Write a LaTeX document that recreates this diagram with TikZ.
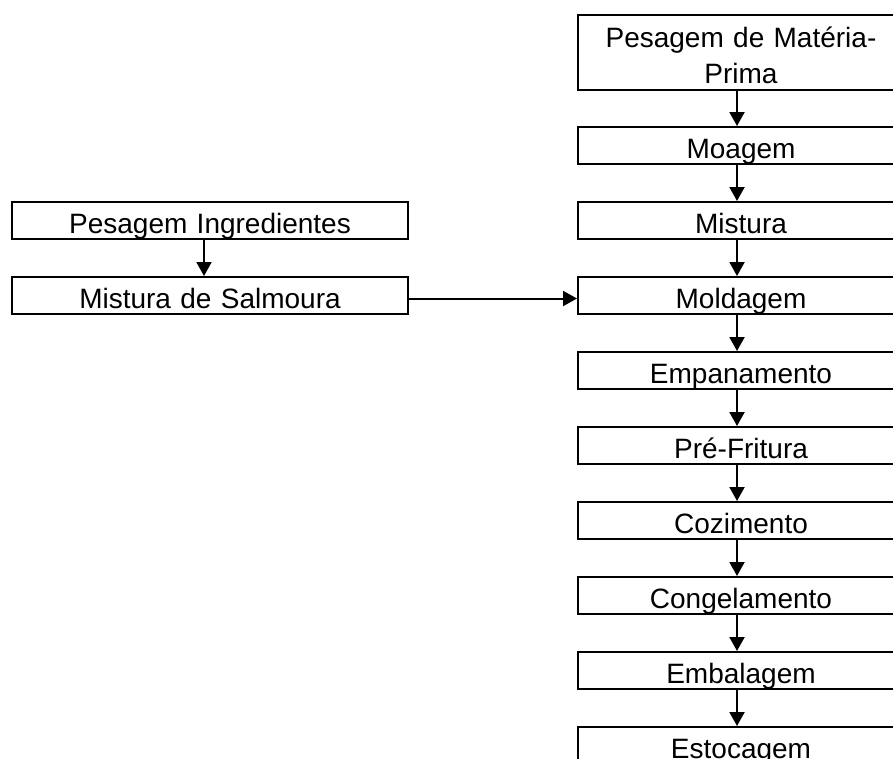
\documentclass[tikz,border=0pt]{standalone}
\usepackage{fontspec}
\setmainfont{Liberation Sans}
\usetikzlibrary{arrows.meta}
\tikzset{
  flowbox/.style={draw=black, line width=2pt, inner sep=0pt, anchor=north west,
    text height=31pt, text depth=6pt, align=center,
    font=\fontsize{28}{36}\selectfont},
  rbox/.style={flowbox, text width=326pt},
  lbox/.style={flowbox, text width=396pt},
  flowarrow/.style={line width=2pt, -{Triangle[length=14pt,width=15pt]}}
}
\begin{document}
\begin{tikzpicture}[x=1pt,y=-1pt]
\useasboundingbox (0,0) rectangle (893,758);
\clip (0,0) rectangle (893,758);
\node[rbox, text height=32pt, text depth=43pt] (p1) at (577,14) {Pesagem de Matéria-\\Prima};
\node[rbox] (p2) at (577,126) {Moagem};
\node[rbox] (p3) at (577,201) {Mistura};
\node[rbox] (p4) at (577,276) {Moldagem};
\node[rbox] (p5) at (577,351) {Empanamento};
\node[rbox] (p6) at (577,426) {Pré-Fritura};
\node[rbox] (p7) at (577,501) {Cozimento};
\node[rbox] (p8) at (577,576) {Congelamento};
\node[rbox] (p9) at (577,651) {Embalagem};
\node[rbox] (p10) at (577,726) {Estocagem};
\node[lbox] (l1) at (11,201) {Pesagem Ingredientes};
\node[lbox] (l2) at (11,276) {Mistura de Salmoura};
\foreach \a/\b in {p1/p2,p2/p3,p3/p4,p4/p5,p5/p6,p6/p7,p7/p8,p8/p9,p9/p10}
  \draw[flowarrow] ([xshift=-4pt]\a.south) -- ([xshift=-4pt]\b.north);
\draw[flowarrow] ([xshift=-6pt]l1.south) -- ([xshift=-6pt]l2.north);
\draw[flowarrow] ([yshift=-3pt]l2.east) -- ([yshift=-3pt]p4.west);
\end{tikzpicture}
\end{document}
